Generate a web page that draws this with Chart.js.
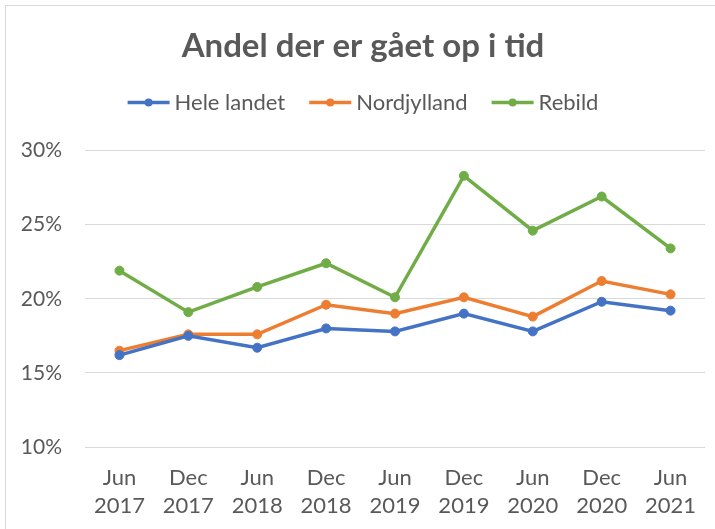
<!DOCTYPE html>
<html>
<head>
<meta charset="utf-8">
<script src="https://cdn.jsdelivr.net/npm/chart.js@4.4.1/dist/chart.umd.min.js"></script>
<style>
  html, body { margin: 0; padding: 0; background: #fff; }
  #wrap { position: absolute; left: 0; top: 0; width: 715px; height: 529px; }
  #frame { position: absolute; left: 5px; top: 5px; width: 720px; height: 540px; border: 1px solid #d9d9d9; box-sizing: border-box; }
  canvas { position: absolute; left: 0; top: 0; }
</style>
</head>
<body>
<div id="wrap">
  <div id="frame"></div>
  <canvas id="c" width="715" height="529"></canvas>
</div>
<script>
const categories = [["Jun","2017"],["Dec","2017"],["Jun","2018"],["Dec","2018"],["Jun","2019"],["Dec","2019"],["Jun","2020"],["Dec","2020"],["Jun","2021"]];
const heleLandet = [16.2, 17.5, 16.7, 18.0, 17.8, 19.0, 17.8, 19.8, 19.2];
const nordjylland = [16.5, 17.6, 17.6, 19.6, 19.0, 20.1, 18.8, 21.2, 20.3];
const rebild = [21.9, 19.1, 20.8, 22.4, 20.1, 28.3, 24.6, 26.9, 23.4];
const yTicks = [10, 15, 20, 25, 30];
const seriesNames = ["Hele landet", "Nordjylland", "Rebild"];
const colors = ["#4472C4", "#ED7D31", "#70AD47"];

const FONT = "Lato, 'Liberation Sans', sans-serif";
const TXT = "#595959";

function ds(label, data, color) {
  return {
    label, data,
    borderColor: color, backgroundColor: color,
    pointBackgroundColor: color, pointBorderColor: color,
    borderWidth: 3.5, pointRadius: 4.5, pointBorderWidth: 1,
    tension: 0, fill: false
  };
}

const legendExtras = {
  id: 'legendExtras',
  beforeInit(chart) {
    const lg = chart.legend;
    if (!lg) return;
    const fit = lg.fit;
    lg.fit = function () { fit.call(this); this.height += 27; };
  },
  afterDraw(chart) {
    const lg = chart.legend;
    if (!lg || !lg.legendHitBoxes) return;
    const ctx = chart.ctx;
    lg.legendHitBoxes.forEach((hb, i) => {
      const y = hb.top + 11;
      ctx.save();
      ctx.strokeStyle = colors[i];
      ctx.lineWidth = 3.5;
      ctx.beginPath();
      ctx.moveTo(hb.left, y);
      ctx.lineTo(hb.left + 42, y);
      ctx.stroke();
      ctx.fillStyle = colors[i];
      ctx.beginPath();
      ctx.arc(hb.left + 21, y, 4, 0, Math.PI * 2);
      ctx.fill();
      ctx.restore();
    });
  }
};

new Chart(document.getElementById('c'), {
  type: 'line',
  data: {
    labels: categories,
    datasets: [
      ds(seriesNames[0], heleLandet, colors[0]),
      ds(seriesNames[1], nordjylland, colors[1]),
      ds(seriesNames[2], rebild, colors[2])
    ]
  },
  options: {
    responsive: false,
    animation: false,
    devicePixelRatio: 1,
    layout: { padding: { left: 21, right: 10, top: 0, bottom: 9 } },
    plugins: {
      title: {
        display: true,
        text: "Andel der er gået op i tid",
        color: TXT,
        font: { family: FONT, size: 33, weight: 'bold' },
        padding: { top: 27, bottom: 1 }
      },
      legend: {
        display: true,
        position: 'top',
        labels: {
          color: TXT,
          font: { family: FONT, size: 22 },
          usePointStyle: true,
          pointStyle: 'line',
          pointStyleWidth: 36,
          boxHeight: 22,
          padding: 24,
          generateLabels(chart) {
            const items = Chart.defaults.plugins.legend.labels.generateLabels(chart);
            return items.map(it => Object.assign(it, { strokeStyle: 'rgba(0,0,0,0)', lineWidth: 0 }));
          }
        }
      },
      tooltip: { enabled: false }
    },
    scales: {
      x: {
        type: 'category',
        offset: true,
        grid: { display: false, drawTicks: false },
        border: { display: false },
        afterFit(scale) { scale.height = 73; },
        ticks: {
          color: TXT,
          font: { family: FONT, size: 22, lineHeight: 1.27 },
          padding: 17,
          maxRotation: 0,
          autoSkip: false
        }
      },
      y: {
        min: 10, max: 30,
        afterBuildTicks(axis) { axis.ticks = yTicks.map(v => ({ value: v })); },
        afterFit(scale) { scale.width = 64; },
        grid: { color: '#d9d9d9', lineWidth: 1, drawTicks: false },
        border: { display: false },
        ticks: {
          color: TXT,
          font: { family: FONT, size: 21 },
          padding: 23,
          callback: v => v + '%'
        }
      }
    }
  },
  plugins: [legendExtras]
});
</script>
</body>
</html>
